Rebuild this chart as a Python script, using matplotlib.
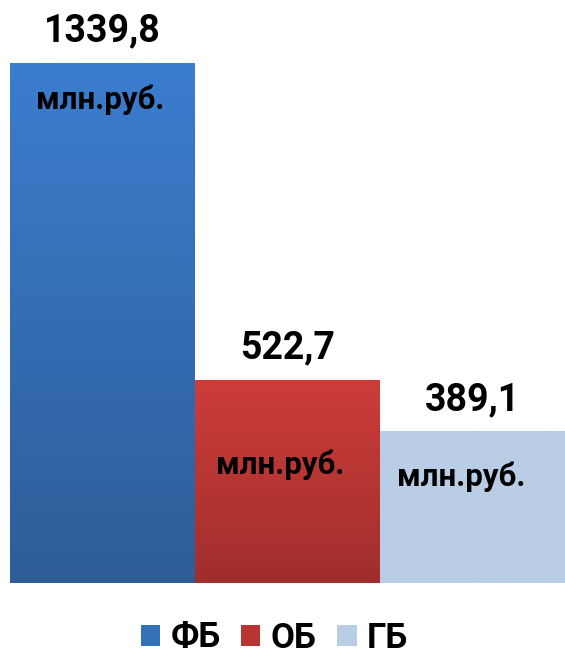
import numpy as np
import matplotlib
matplotlib.use('Agg')
import matplotlib.pyplot as plt
from matplotlib.colors import LinearSegmentedColormap
from matplotlib.patches import Patch

plt.rcParams['font.family'] = ['Roboto', 'DejaVu Sans']

# data
names = ['ФБ', 'ОБ', 'ГБ']
values = [1339.8, 522.7, 389.1]
value_labels = ['1339,8', '522,7', '389,1']
unit = 'млн.руб.'

# gradient colours (top, bottom) and legend colours
top_cols = ['#3b7dcf', '#cd3d3a', '#b9cde5']
bot_cols = ['#2e5d98', '#a02e2c', '#b9cde5']
leg_cols = ['#3470b8', '#b83533', '#b9cde5']

# unit label placement: x offset (bar units), depth below top (px)
unit_dx = [-0.01, -0.04, -0.06]
unit_dy = [37, 85, 45]

fig = plt.figure(figsize=(5.65, 6.56), dpi=100)
ax = fig.add_axes([10/565, (656-583)/656, 560/565, 520/656])
ppu = 520 / values[0]  # pixels per unit

for i, v in enumerate(values):
    cmap = LinearSegmentedColormap.from_list('g%d' % i, [bot_cols[i], top_cols[i]])
    grad = np.linspace(0, 1, 256).reshape(-1, 1)
    ax.imshow(grad, extent=[i - 0.5, i + 0.5, 0, v], origin='lower',
              aspect='auto', cmap=cmap, zorder=2)
    ax.text(i, v + 32 / ppu, value_labels[i], ha='center', va='center',
            fontsize=27, fontweight='bold', clip_on=False)
    ax.text(i + unit_dx[i], v - unit_dy[i] / ppu, unit, ha='center', va='center',
            fontsize=22.5, fontweight='bold', zorder=3)

# thin shadow along the base
ax.axhline(-1.5 / ppu, color='#b5b5b5', lw=1.5, zorder=1)

ax.set_xlim(-0.5, 2.5 + 5 / 185)
ax.set_ylim(0, values[0])
ax.axis('off')

handles = [Patch(facecolor=c, edgecolor='none') for c in leg_cols]
fig.legend(handles, names, loc='center', bbox_to_anchor=(0.5 - 8/565, 1 - 638/656),
           ncol=3, frameon=False, prop={'size': 25, 'weight': 'bold'},
           handlelength=0.55, handleheight=0.55, handletextpad=0.3,
           columnspacing=0.6)

fig.savefig('out.png', dpi=100)
